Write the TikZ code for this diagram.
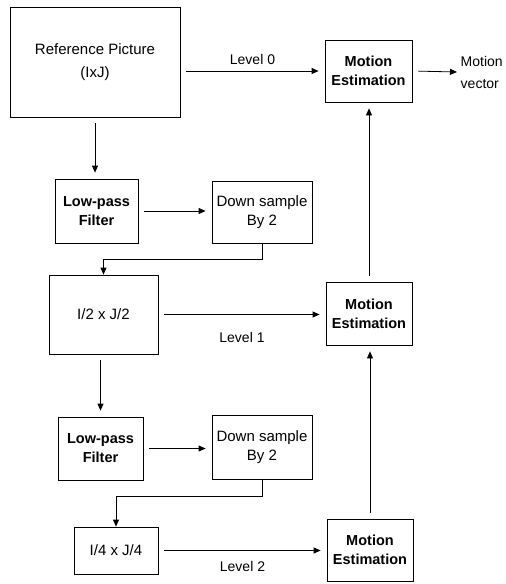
\documentclass[tikz,border=0pt]{standalone}
\usepackage{fontspec}
\setmainfont{Liberation Sans}
\usetikzlibrary{arrows.meta}

\begin{document}
\begin{tikzpicture}[x=1pt,y=-1pt,>={Triangle[length=7pt,width=6pt]},line width=0.8pt,
  box/.style={draw,inner sep=0pt,align=center,font=\fontsize{15}{19}\selectfont},
  bbox/.style={box,font=\fontsize{14.5}{19}\selectfont\bfseries},
  lbl/.style={font=\fontsize{14}{19}\selectfont},
  gap/.style={->,shorten <=6pt,shorten >=6pt}]
\useasboundingbox (0,0) rectangle (506,584);

% left column
\node[box,minimum width=170pt,minimum height=110pt,font=\fontsize{15}{23}\selectfont] (ref) at (95,62) {Reference Picture\\(IxJ)};
\node[bbox,minimum width=83pt,minimum height=64pt] (lpfa) at (96.5,211) {Low-pass\\Filter};
\node[box,minimum width=100pt,minimum height=62pt] (dsa) at (262,212) {Down sample\\By 2};
\node[box,minimum width=109pt,minimum height=79pt] (half) at (103.5,314.5) {I/2 x J/2};
\node[bbox,minimum width=85pt,minimum height=63pt] (lpfb) at (100.5,448.5) {Low-pass\\Filter};
\node[box,minimum width=100pt,minimum height=64pt] (dsb) at (262,447) {Down sample\\By 2};
\node[box,minimum width=84pt,minimum height=47pt] (quarter) at (116,550.5) {I/4 x J/4};

% right column
\node[bbox,minimum width=87pt,minimum height=62pt] (mea) at (368.5,71) {Motion\\Estimation};
\node[bbox,minimum width=86pt,minimum height=63pt] (meb) at (369,313.5) {Motion\\Estimation};
\node[bbox,minimum width=86pt,minimum height=62pt] (mec) at (370,550) {Motion\\Estimation};
\node[lbl,align=left,anchor=west,font=\fontsize{14}{22}\selectfont] (mv) at (457,72) {Motion\\vector};

\draw[gap] (ref.south) -- (ref.south |- lpfa.north);
\draw[gap] (lpfa.east) -- (lpfa.east -| dsa.west);
\draw[->] (dsa.south) -- ++(0,16) -| (half.north);
\draw[gap] (lpfb.north |- half.south) -- (lpfb.north);
\draw[gap] (lpfb.east) -- (lpfb.east -| dsb.west);
\draw[->] (dsb.south) -- ++(0,17) -| (quarter.north);

\draw[gap] (ref.east |- mea.west) -- (mea.west) node[midway,above=3pt,lbl] {Level 0};
\draw[gap] (half.east) -- (half.east -| meb.west) node[midway,below=14pt,lbl] {Level 1};
\draw[gap] (quarter.east) -- (quarter.east -| mec.west) node[midway,below=7pt,lbl] {Level 2};

\draw[gap] (mec.north) -- (mec.north |- meb.south);
\draw[gap] (meb.north) -- (meb.north |- mea.south);
\draw[->,shorten <=6pt] (mea.east) -- (mv.west);

\end{tikzpicture}
\end{document}
